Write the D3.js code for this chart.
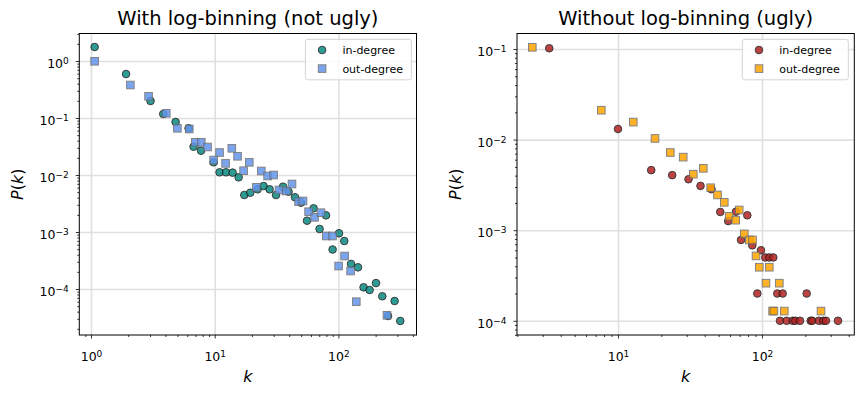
<!DOCTYPE html>
<html><head><meta charset="utf-8">
<script src="https://cdn.jsdelivr.net/npm/d3@7"></script>
<style>body{margin:0;background:#fff}svg{display:block}text{font-family:"DejaVu Sans",sans-serif}</style>
</head><body>
<svg id="chart" width="863" height="397"></svg>
<script>
// ---- data ----
const leftInK  = [1.07,1.92,3.03,3.84,4.83,6.15,6.75,7.75,9.8,10.95,12.34,13.96,15.61,17.35,19.4,22.23,24.85,27.79,31.31,35.66,39.57,44.59,49.85,55.74,63.02,70.47,79.39,89.77,101.1,111.6,126.5,144.0,159.8,178.7,201.4,226.4,251.8,284.7,316.5];
const leftInP  = [1.76,0.591,0.199,0.1175,0.0851,0.066,0.0314,0.0267,0.0167,0.01115,0.01115,0.011,0.0091,0.00446,0.00489,0.00561,0.00641,0.00561,0.00446,0.00623,0.00509,0.00406,0.00327,0.00158,0.0026,0.00113,0.00196,0.000493,0.000949,0.000695,0.000275,0.00024,0.000107,0.000096,0.000127,0.0000745,0.0000336,0.0000616,0.0000275];
const leftOutK = [1.07,2.08,2.92,4.06,4.99,6.23,6.97,7.79,8.76,9.8,10.95,12.25,13.75,15.31,17.13,19.04,21.7,23.81,26.77,29.94,33.11,37.92,42.16,47.68,51.73,57.43,64.21,72.33,79.84,89.6,100.4,112.2,125.5,139.5,247.1];
const leftOutP = [0.988,0.379,0.24,0.121,0.066,0.0641,0.0375,0.0375,0.031,0.0183,0.0248,0.016,0.0294,0.0213,0.0119,0.0167,0.00608,0.01175,0.00961,0.01,0.00546,0.00524,0.00695,0.0034,0.0035,0.00227,0.00181,0.00218,0.000851,0.000851,0.000253,0.000379,0.000207,0.0000599,0.0000346];

const rightInK  = [3.33,10.0,17.01,23.79,30.88,37.41,44.6,51.33,58.26,65.98,79.07,71.5,85.6,98.4,105.4,112.4,119.8,92.8,127.7,139.2,204.3,133.4,148.4,163.4,170.3,183.6,217.9,223.6,248.8,266.5,278.2,337.1];
const rightInP  = [0.1018,0.0131,0.0046,0.00405,0.00365,0.00308,0.00283,0.00159,0.00126,0.0016,0.00146,0.00078,0.00068,0.0006,0.0005,0.0005,0.0005,0.0002,0.0002,0.0002,0.0002,0.0001,0.0001,0.0001,0.0001,0.0001,0.0001,0.0001,0.0001,0.0001,0.0001,0.0001];
const rightOutK = [2.54,7.66,12.77,18.07,23.08,28.37,33.34,39.13,44.04,49.09,54.72,59.18,65.68,69.45,75.35,81.6,85.9,90.9,95.8,112.4,106.6,131.9,118.5,121.0,142.8,256.9];
const rightOutP = [0.1044,0.0211,0.0156,0.0103,0.0072,0.0064,0.00415,0.00482,0.00294,0.00245,0.00203,0.00142,0.00129,0.00167,0.00091,0.00078,0.00078,0.00052,0.00039,0.00039,0.00026,0.00026,0.000128,0.000128,0.000128,0.000128];

const titles = ["With log-binning (not ugly)", "Without log-binning (ugly)"];
const seriesLabels = ["in-degree", "out-degree"];

// ---- layout / style ----
const svg = d3.select("#chart");
const panels = [
  {x0:79.3, x1:416.5, y0:33.5, y1:335, xd:[Math.pow(10,-0.0946), Math.pow(10,2.6314)], yd:[Math.pow(10,-4.807), Math.pow(10,0.4825)],
   title:titles[0], legendX:305.4,
   series:[{k:leftInK,p:leftInP,shape:"circle",fill:"#0a8a82",stroke:"#1a1a1a"},
           {k:leftOutK,p:leftOutP,shape:"square",fill:"#6495ED",stroke:"#6e6e6e"}]},
  {x0:517, x1:854.3, y0:33.5, y1:335, xd:[Math.pow(10,0.2986), Math.pow(10,2.641)], yd:[Math.pow(10,-4.157), Math.pow(10,-0.829)],
   title:titles[1], legendX:742.3,
   series:[{k:rightInK,p:rightInP,shape:"circle",fill:"#B22222",stroke:"#1a1a1a"},
           {k:rightOutK,p:rightOutP,shape:"square",fill:"#FFA500",stroke:"#6e6e6e"}]}
];
const R = 3.8, S = 7.6, ALPHA = 0.85, FS = 12.5, LFS = 11;

function logTicks(domain){
  const lo = Math.log10(domain[0]), hi = Math.log10(domain[1]);
  const major = [], minor = [];
  for (let d = Math.floor(lo)-1; d <= Math.ceil(hi)+1; d++){
    const v = Math.pow(10,d);
    if (v >= domain[0] && v <= domain[1]) major.push(v);
    for (let m = 2; m <= 9; m++){ const w = m*Math.pow(10,d); if (w >= domain[0] && w <= domain[1]) minor.push(w); }
  }
  return {major, minor};
}
function supLabel(sel, v){
  const e = Math.round(Math.log10(v));
  sel.text(null);
  sel.append("tspan").text("10");
  sel.append("tspan").attr("dy","-0.42em").attr("font-size", (FS*0.72)+"px").text(e < 0 ? "\u2212" + (-e) : String(e));
}
function marker(g, shape, cx, cy, fill, stroke){
  if (shape === "circle"){
    g.append("circle").attr("cx",cx).attr("cy",cy).attr("r",R)
      .attr("fill",fill).attr("stroke",stroke).attr("stroke-width",1).attr("opacity",ALPHA);
  } else {
    g.append("rect").attr("x",cx-S/2).attr("y",cy-S/2).attr("width",S).attr("height",S)
      .attr("fill",fill).attr("stroke",stroke).attr("stroke-width",1).attr("opacity",ALPHA);
  }
}

panels.forEach((P, pi) => {
  const x = d3.scaleLog().domain(P.xd).range([P.x0, P.x1]);
  const y = d3.scaleLog().domain(P.yd).range([P.y1, P.y0]);
  const xt = logTicks(P.xd), yt = logTicks(P.yd);
  const g = svg.append("g");

  // grid
  g.append("g").attr("transform",`translate(0,${P.y1})`)
    .call(d3.axisBottom(x).tickValues(xt.major).tickSize(-(P.y1-P.y0)).tickFormat(""))
    .call(s => { s.select(".domain").remove(); s.selectAll("line").attr("stroke","#e0e0e0").attr("stroke-width",1.6); });
  g.append("g").attr("transform",`translate(${P.x0},0)`)
    .call(d3.axisLeft(y).tickValues(yt.major).tickSize(-(P.x1-P.x0)).tickFormat(""))
    .call(s => { s.select(".domain").remove(); s.selectAll("line").attr("stroke","#e0e0e0").attr("stroke-width",1.6); });

  // points
  const clip = "clip"+pi;
  svg.append("clipPath").attr("id",clip).append("rect").attr("x",P.x0).attr("y",P.y0).attr("width",P.x1-P.x0).attr("height",P.y1-P.y0);
  const pts = g.append("g").attr("clip-path",`url(#${clip})`);
  P.series.forEach(s => {
    s.k.forEach((kv,i) => marker(pts, s.shape, x(kv), y(s.p[i]), s.fill, s.stroke));
  });

  // minor ticks
  g.append("g").attr("transform",`translate(0,${P.y1})`)
    .call(d3.axisBottom(x).tickValues(xt.minor).tickSize(2).tickFormat(""))
    .call(s => { s.select(".domain").remove(); s.selectAll("line").attr("stroke-width",0.8); });
  g.append("g").attr("transform",`translate(${P.x0},0)`)
    .call(d3.axisLeft(y).tickValues(yt.minor).tickSize(2).tickFormat(""))
    .call(s => { s.select(".domain").remove(); s.selectAll("line").attr("stroke-width",0.8); });

  // major ticks + labels
  g.append("g").attr("transform",`translate(0,${P.y1})`)
    .call(d3.axisBottom(x).tickValues(xt.major).tickSize(3.5).tickFormat(""))
    .call(s => {
      s.select(".domain").remove();
      s.selectAll("line").attr("stroke-width",0.8);
      s.selectAll(".tick text").attr("y",25.5).attr("dy",0).attr("font-size",FS+"px").attr("fill","#000")
        .style("font-family","DejaVu Sans").each(function(d){ supLabel(d3.select(this), d); });
    });
  g.append("g").attr("transform",`translate(${P.x0},0)`)
    .call(d3.axisLeft(y).tickValues(yt.major).tickSize(3.5).tickFormat(""))
    .call(s => {
      s.select(".domain").remove();
      s.selectAll("line").attr("stroke-width",0.8);
      s.selectAll(".tick text").attr("x",-10.5).attr("dy",0).attr("y",6.5).attr("font-size",FS+"px").attr("fill","#000")
        .attr("text-anchor","end").style("font-family","DejaVu Sans").each(function(d){ supLabel(d3.select(this), d); });
    });

  // frame
  g.append("rect").attr("x",P.x0).attr("y",P.y0).attr("width",P.x1-P.x0).attr("height",P.y1-P.y0)
    .attr("fill","none").attr("stroke","#000").attr("stroke-width",1);

  // title
  const cx = (P.x0+P.x1)/2;
  g.append("text").attr("x",cx).attr("y",24.5).attr("text-anchor","middle").attr("font-size","19.5px").text(P.title);

  // axis labels
  g.append("text").attr("x",cx).attr("y",382).attr("text-anchor","middle").attr("font-size","16px")
    .attr("font-style","italic").text("k");
  const yl = g.append("text").attr("transform",`translate(${P.x0-56},${(P.y0+P.y1)/2}) rotate(-90)`)
    .attr("text-anchor","middle").attr("font-size","16px");
  yl.append("tspan").attr("font-style","italic").text("P");
  yl.append("tspan").text("(");
  yl.append("tspan").attr("font-style","italic").text("k");
  yl.append("tspan").text(")");

  // legend
  const lx = P.legendX, ly = 39.3;
  const lg = g.append("g");
  lg.append("rect").attr("x",lx).attr("y",ly).attr("width",106).attr("height",40.5).attr("rx",2.5)
    .attr("fill","#fff").attr("fill-opacity",0.8).attr("stroke","#d4d4d4").attr("stroke-width",1);
  P.series.forEach((s,i) => {
    const yy = ly + 10.7 + i*18.6;
    marker(lg, s.shape, lx+16.7, yy, s.fill, s.stroke);
    lg.append("text").attr("x",lx+37).attr("y",yy+4).attr("font-size",LFS+"px").text(seriesLabels[i]);
  });
});
</script>
</body></html>
